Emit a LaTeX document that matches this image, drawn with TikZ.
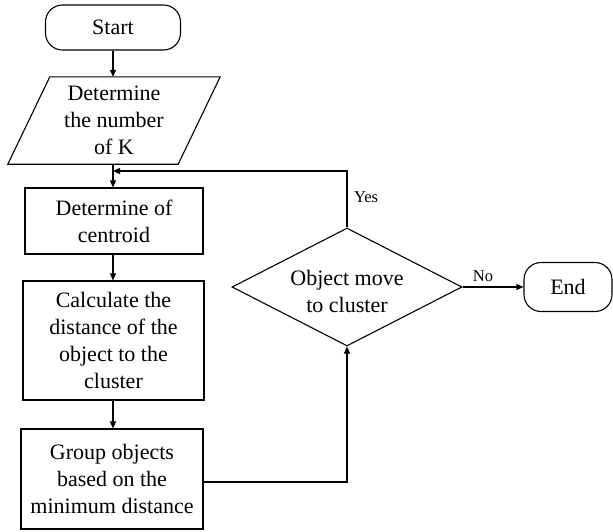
\documentclass[tikz,border=0pt]{standalone}
\usepackage{fontspec}
\setmainfont{Liberation Serif}
\usetikzlibrary{shapes.geometric,arrows.meta}
\begin{document}
\begin{tikzpicture}[x=1pt,y=-1pt,
  every node/.style={font=\fontsize{22}{27}\selectfont, align=center, inner sep=0pt},
  line/.style={line width=1.2pt},
  arr/.style={line width=1.2pt,-{Triangle[length=7pt,width=6pt]}},
  term/.style={draw, line width=1.1pt, rounded corners=17pt},
  proc/.style={draw, line width=1.1pt},
  lbl/.style={font=\fontsize{16.5}{19}\selectfont}
]
\useasboundingbox (0,0) rectangle (613,531);
\node[term, minimum width=135pt, minimum height=45pt] (start) at (113,27.5) {Start};
\node[minimum width=212pt, minimum height=87pt] (detk) at (114,120.5) {Determine\\the number\\of K};
\draw[line width=1.1pt] ([xshift=42pt]detk.north west) -- (detk.north east) -- ([xshift=-42pt]detk.south east) -- (detk.south west) -- cycle;
\node[proc, minimum width=178pt, minimum height=66pt] (cent) at (114,221) {Determine of\\centroid};
\node[proc, minimum width=181pt, minimum height=119pt] (calc) at (113.5,340.5) {Calculate the\\distance of the\\object to the\\cluster};
\node[proc, minimum width=182pt, minimum height=100pt] (grp) at (112,479) {Group objects\\based on the\\minimum distance};
\node[draw, diamond, line width=1.1pt, minimum width=230pt, minimum height=118pt] (dec) at (347,287) {};
\node (dectxt) at (347,291) {Object move\\to cluster};
\node[term, minimum width=88pt, minimum height=49pt] (end) at (568,287) {End};
\coordinate (j) at (113,171);
\draw[arr] (start.south) -- (detk.north -| start.south);
\draw[arr] (detk.south -| start.south) -- (cent.north -| start.south);
\draw[arr] (cent.south -| start.south) -- (calc.north -| start.south);
\draw[arr] (calc.south -| start.south) -- (grp.north -| start.south);
\draw[arr] ([yshift=-3pt]grp.east) -| (dec.south);
\draw[arr] (dec.north) |- (j);
\draw[arr] (dec.east) -- (end.west);
\node[lbl] (yes) at (366,197) {Yes};
\node[lbl] (no) at (483,276) {No};
\end{tikzpicture}
\end{document}
